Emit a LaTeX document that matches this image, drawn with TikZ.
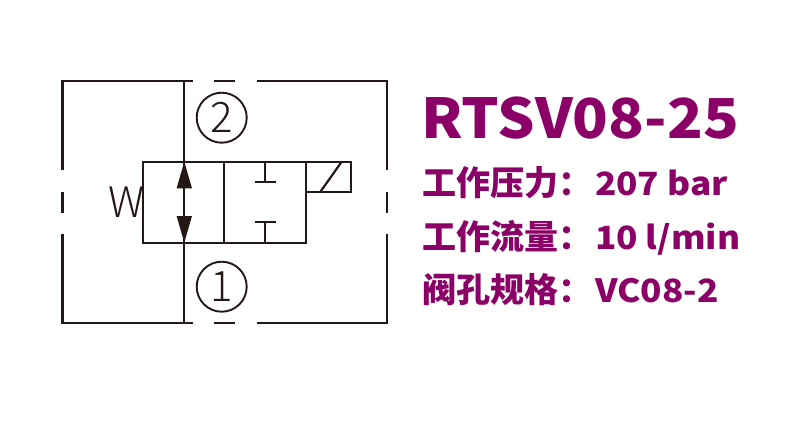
\documentclass[tikz,border=0pt]{standalone}
\usepackage{fontspec}
\setmainfont{Noto Sans CJK SC}
\newfontfamily\headfont{Noto Sans CJK SC Black}
\newfontfamily\lightfont{Noto Sans CJK SC Light}
\definecolor{plum}{HTML}{8B0066}
\definecolor{ink}{HTML}{231815}
\tikzset{
  sym/.style={draw=ink,line width=2.2pt,line cap=butt,line join=miter},
  lab/.style={anchor=base west,inner sep=0pt,outer sep=0pt,text=plum,font=\fontsize{34}{34}\selectfont\bfseries},
  val/.style={anchor=base west,inner sep=0pt,outer sep=0pt,text=plum,xscale=1.1,font=\fontsize{32}{32}\selectfont\bfseries},
  title/.style={anchor=base west,inner sep=0pt,outer sep=0pt,text=plum,xscale=1.07,font=\headfont\fontsize{55}{55}\selectfont},
  port/.style={circle,draw=ink,line width=1.9pt,minimum size=50pt,inner sep=0pt,text=ink,font=\lightfont\fontsize{42}{42}\selectfont},
  tip/.style={fill=ink,draw=none}
}
\begin{document}
\begin{tikzpicture}[x=1pt,y=-1pt]
\useasboundingbox (0,0) rectangle (800,421);
% frame
\draw[sym] (192.7,80.7) -- (62.5,80.7) -- (62.5,170);
\draw[sym] (214,80.7) -- (235,80.7);
\draw[sym] (256.7,80.7) -- (386.7,80.7) -- (386.7,170);
\draw[sym] (192.7,323.3) -- (62.5,323.3) -- (62.5,234);
\draw[sym] (214,323.3) -- (235,323.3);
\draw[sym] (256.7,323.3) -- (386.7,323.3) -- (386.7,234);
\draw[sym] (62.5,191.7) -- (62.5,212.7);
\draw[sym] (386.7,191.7) -- (386.7,212.7);
% valve
\draw[sym] (143.3,161.7) rectangle (305.7,242.7);
\draw[sym] (184.3,80.7) -- (184.3,323.3);
\draw[sym] (224.3,161.7) -- (224.3,242.7);
\draw[sym] (265.3,161.7) -- (265.3,182) (255,182) -- (275.5,182);
\draw[sym] (265.3,242.7) -- (265.3,222.3) (255,222.3) -- (275.5,222.3);
\draw[sym] (305.7,161.7) -- (351.3,161.7) -- (351.3,192.3) -- (305.7,192.3);
\draw[sym] (320,192.3) -- (341.7,161.7);
\fill[tip] (184.3,161.7) -- (192,188.3) -- (176.6,188.3) -- cycle;
\fill[tip] (184.3,242.7) -- (192,216) -- (176.6,216) -- cycle;
% labels
\node[port] (p2) at (221.7,117.7) {2};
\node[port] (p1) at (221.7,286.7) {1};
\node[inner sep=0pt,text=ink,font=\lightfont\fontsize{42}{42}\selectfont] (w) at (126.5,202) {W};
\node[title] (t) at (421,138) {RTSV08-25};
\node[lab] (l1) at (422,195) {工作压力：};
\node[val] (v1) at (595,195) {207 bar};
\node[lab] (l2) at (422,249.3) {工作流量：};
\node[val] (v2) at (595,249.3) {10 l/min};
\node[lab] (l3) at (422,302.7) {阀孔规格：};
\node[val] (v3) at (595,302.7) {VC08-2};
\end{tikzpicture}
\end{document}
